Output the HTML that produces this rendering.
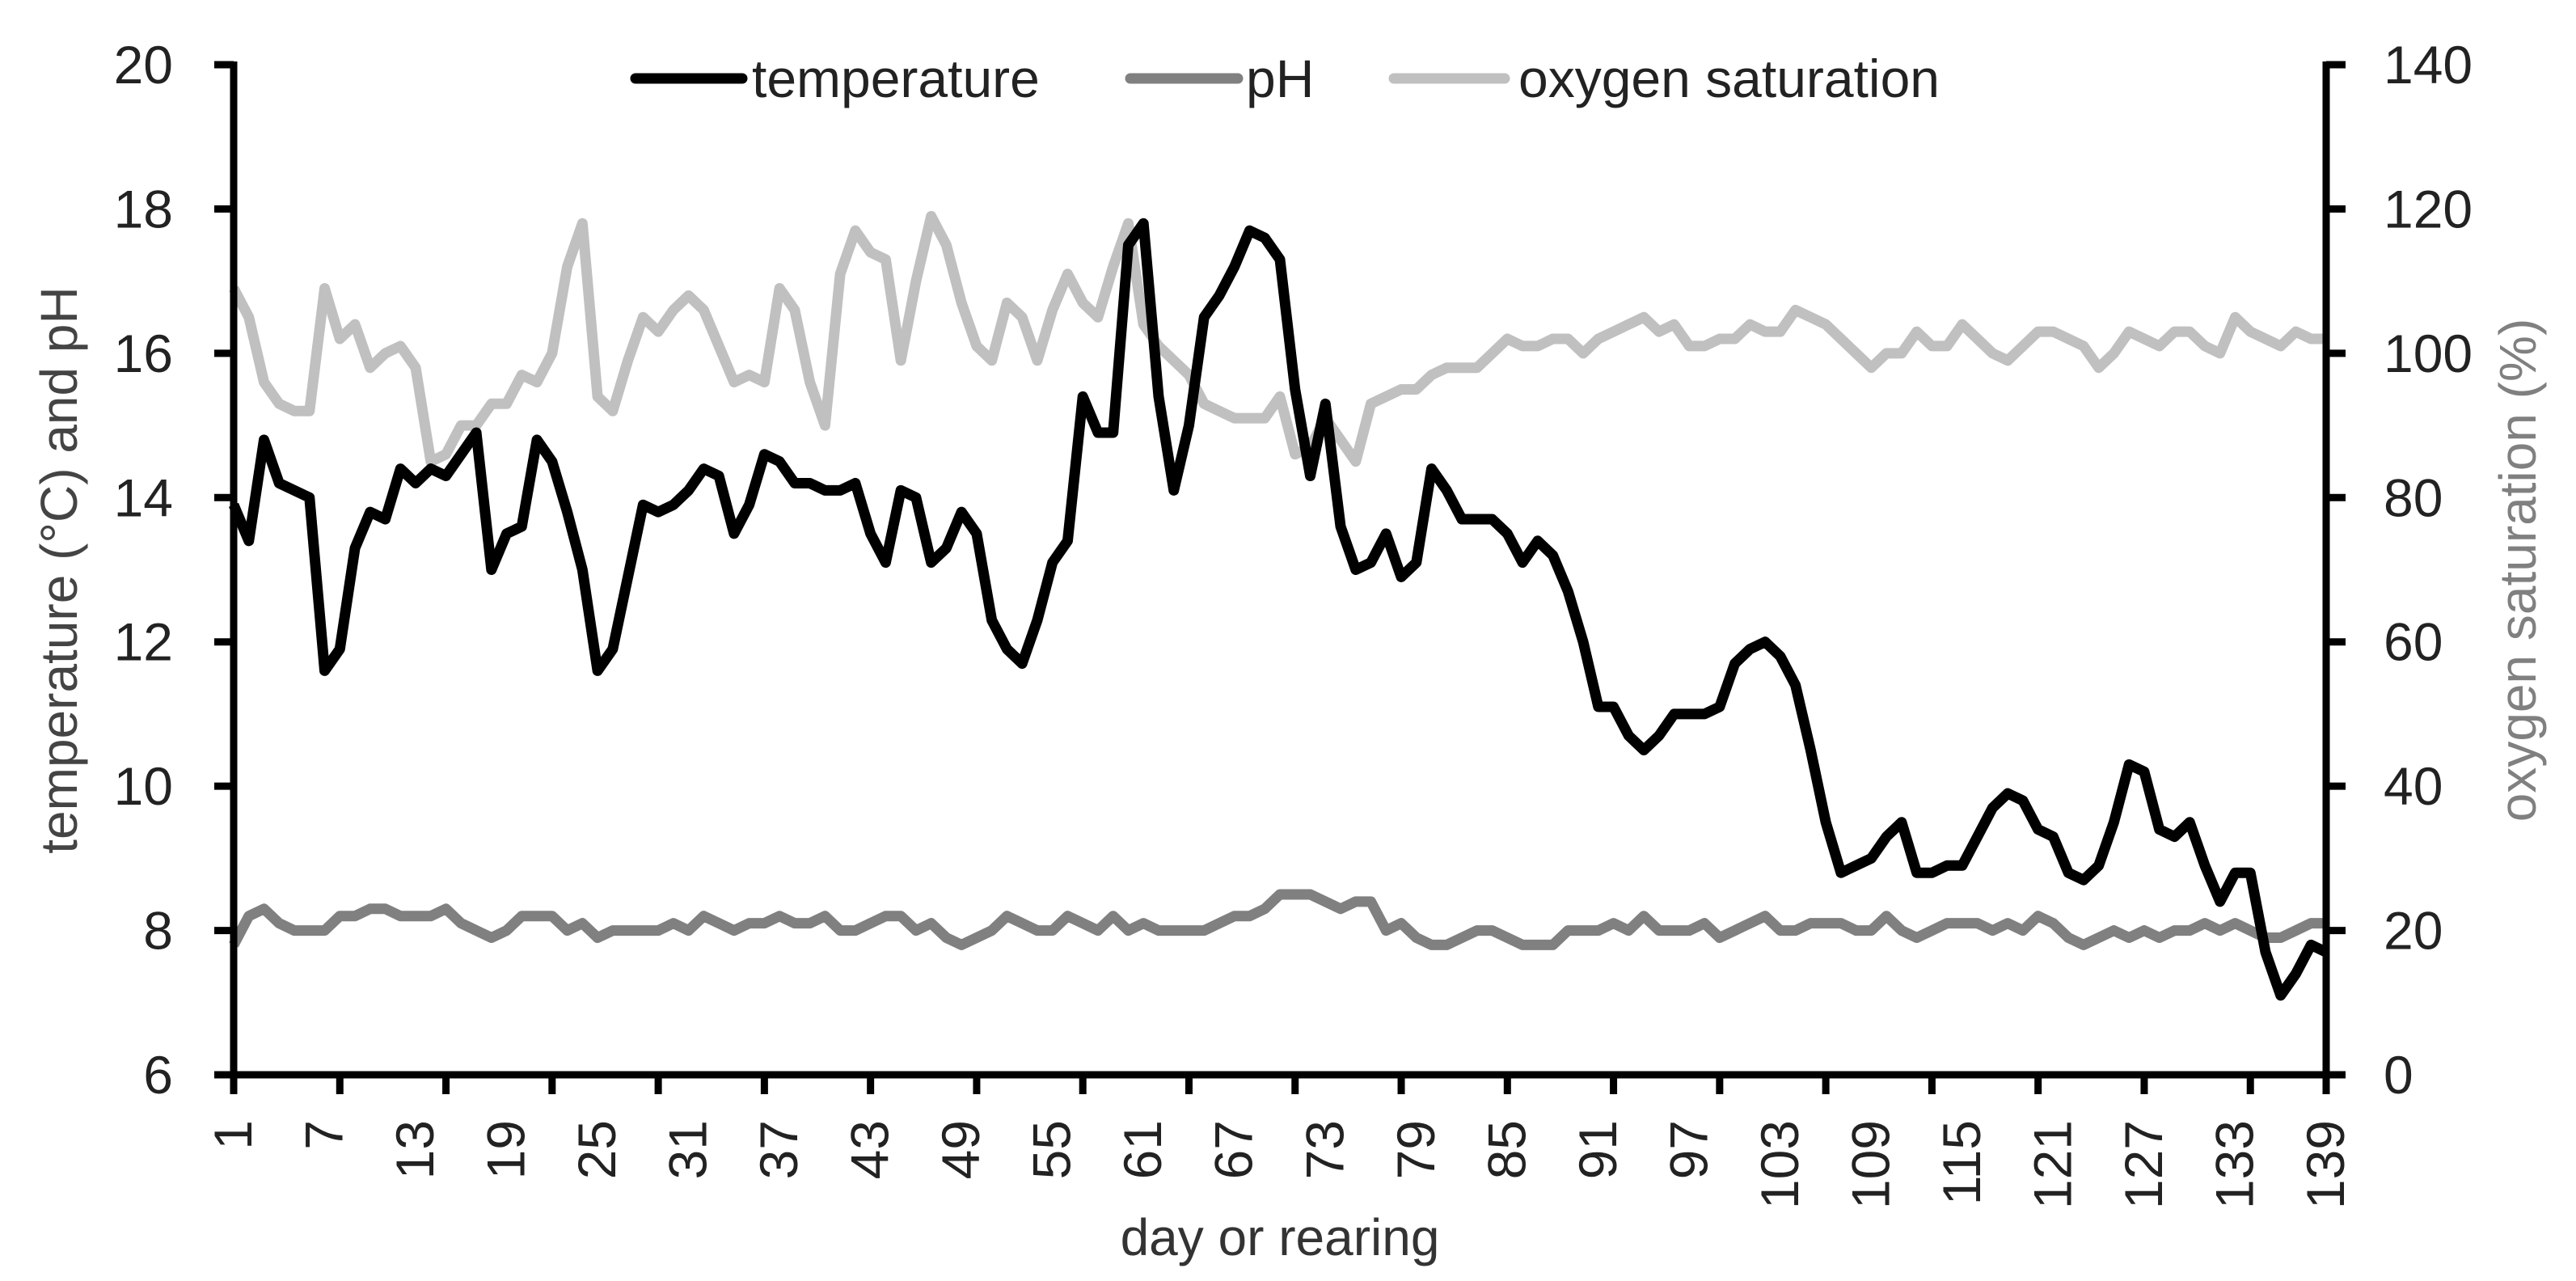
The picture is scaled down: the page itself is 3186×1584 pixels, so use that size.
<!DOCTYPE html>
<html><head><meta charset="utf-8"><style>
html,body{margin:0;padding:0;background:#fff;}
svg{display:block;font-family:"Liberation Sans",Arial,sans-serif;}
</style></head><body>
<svg id="chart" width="3186" height="1584" viewBox="0 0 3186 1584" xmlns="http://www.w3.org/2000/svg"></svg>
<script>
const days = Array.from({length:139},(_,i)=>i+1);
const temperature = [13.9,13.4,14.8,14.2,14.1,14.0,11.6,11.9,13.3,13.8,13.7,14.4,14.2,14.4,14.3,14.6,14.9,13.0,13.5,13.6,14.8,14.5,13.8,13.0,11.6,11.9,12.9,13.9,13.8,13.9,14.1,14.4,14.3,13.5,13.9,14.6,14.5,14.2,14.2,14.1,14.1,14.2,13.5,13.1,14.1,14.0,13.1,13.3,13.8,13.5,12.3,11.9,11.7,12.3,13.1,13.4,15.4,14.9,14.9,17.5,17.8,15.4,14.1,15.0,16.5,16.8,17.2,17.7,17.6,17.3,15.5,14.3,15.3,13.6,13.0,13.1,13.5,12.9,13.1,14.4,14.1,13.7,13.7,13.7,13.5,13.1,13.4,13.2,12.7,12.0,11.1,11.1,10.7,10.5,10.7,11.0,11.0,11.0,11.1,11.7,11.9,12.0,11.8,11.4,10.5,9.5,8.8,8.9,9.0,9.3,9.5,8.8,8.8,8.9,8.9,9.3,9.7,9.9,9.8,9.4,9.3,8.8,8.7,8.9,9.5,10.3,10.2,9.4,9.3,9.5,8.9,8.4,8.8,8.8,7.7,7.1,7.4,7.8,7.7];
const ph = [7.8,8.2,8.3,8.1,8.0,8.0,8.0,8.2,8.2,8.3,8.3,8.2,8.2,8.2,8.3,8.1,8.0,7.9,8.0,8.2,8.2,8.2,8.0,8.1,7.9,8.0,8.0,8.0,8.0,8.1,8.0,8.2,8.1,8.0,8.1,8.1,8.2,8.1,8.1,8.2,8.0,8.0,8.1,8.2,8.2,8.0,8.1,7.9,7.8,7.9,8.0,8.2,8.1,8.0,8.0,8.2,8.1,8.0,8.2,8.0,8.1,8.0,8.0,8.0,8.0,8.1,8.2,8.2,8.3,8.5,8.5,8.5,8.4,8.3,8.4,8.4,8.0,8.1,7.9,7.8,7.8,7.9,8.0,8.0,7.9,7.8,7.8,7.8,8.0,8.0,8.0,8.1,8.0,8.2,8.0,8.0,8.0,8.1,7.9,8.0,8.1,8.2,8.0,8.0,8.1,8.1,8.1,8.0,8.0,8.2,8.0,7.9,8.0,8.1,8.1,8.1,8.0,8.1,8.0,8.2,8.1,7.9,7.8,7.9,8.0,7.9,8.0,7.9,8.0,8.0,8.1,8.0,8.1,8.0,7.9,7.9,8.0,8.1,8.1];
const oxygen = [109,105,96,93,92,92,109,102,104,98,100,101,98,85,86,90,90,93,93,97,96,100,112,118,94,92,99,105,103,106,108,106,101,96,97,96,109,106,96,90,111,117,114,113,99,110,119,115,107,101,99,107,105,99,106,111,107,105,112,118,104,101,99,97,93,92,91,91,91,94,86,87,91,88,85,93,94,95,95,97,98,98,98,100,102,101,101,102,102,100,102,103,104,105,103,104,101,101,102,102,104,103,103,106,105,104,102,100,98,100,100,103,101,101,104,102,100,99,101,103,103,102,101,98,100,103,102,101,103,103,101,100,105,103,102,101,103,102,102];
const leftTicks = [6,8,10,12,14,16,18,20];
const rightTicks = [0,20,40,60,80,100,120,140];
const xLabels = [1,7,13,19,25,31,37,43,49,55,61,67,73,79,85,91,97,103,109,115,121,127,133,139];

const NS="http://www.w3.org/2000/svg";
const svg=document.getElementById('chart');
const X0=289,X1=2877,Y0=1329,Y1=80;
const xs=d=>X0+(d-1)*(X1-X0)/138;
const yL=v=>Y0-(v-6)*(Y0-Y1)/14;
const yR=v=>Y0-v*(Y0-Y1)/140;
function el(tag,attrs,parent){const e=document.createElementNS(NS,tag);for(const k in attrs)e.setAttribute(k,attrs[k]);(parent||svg).appendChild(e);return e;}

function series(vals,yf,color,name){
  const p=el('polyline',{points:vals.map((v,i)=>xs(days[i])+','+yf(v)).join(' '),fill:'none',stroke:color,'stroke-width':13,'stroke-linejoin':'round'});
  
  
}
series(ph,yL,'#808080','ph-line');
series(oxygen,yR,'#c0c0c0','oxygen-line');
series(temperature,yL,'#000','temperature-line');

// axes
const ax=el('g',{stroke:'#000','stroke-width':9,fill:'none'});


el('line',{x1:X0,y1:Y1-4,x2:X0,y2:Y0+4},ax);
el('line',{x1:X1,y1:Y1-4,x2:X1,y2:Y0+4},ax);
el('line',{x1:X0-4,y1:Y0,x2:X1+4,y2:Y0},ax);
leftTicks.forEach(t=>{el('line',{x1:X0-24,y1:yL(t),x2:X0,y2:yL(t)},ax);
  const tx=el('text',{x:214,y:yL(t)+23,'text-anchor':'end','font-size':66,fill:'#222'});tx.textContent=t;
  
  });
rightTicks.forEach(t=>{el('line',{x1:X1,y1:yR(t),x2:X1+24,y2:yR(t)},ax);
  const tx=el('text',{x:2948,y:yR(t)+23,'font-size':66,fill:'#222'});tx.textContent=t;
  
  });
for(let d=1;d<=139;d+=7){el('line',{x1:xs(d),y1:Y0,x2:xs(d),y2:Y0+24},ax);}
el('line',{x1:X1,y1:Y0,x2:X1,y2:Y0+24},ax);
xLabels.forEach(d=>{const x=xs(d)+22,y=1385;
  const tx=el('text',{x:x,y:y,'text-anchor':'end','font-size':66,fill:'#222',transform:`rotate(-90 ${x} ${y})`});tx.textContent=d;
  
  });

// titles
let t=el('text',{x:1583,y:1552,'text-anchor':'middle','font-size':64,fill:'#333'});t.textContent='day or rearing';


t=el('text',{x:95,y:705,'text-anchor':'middle','font-size':64,fill:'#444',transform:'rotate(-90 95 705)'});t.textContent='temperature (°C)  and pH';


t=el('text',{x:3136,y:705,'text-anchor':'middle','font-size':64,fill:'#808080',transform:'rotate(-90 3136 705)'});t.textContent='oxygen saturation (%)';



// legend
const legend=[['temperature','#000',786,918,930],['pH','#808080',1398,1531,1541],['oxygen saturation','#c0c0c0',1724,1861,1878]];
legend.forEach(([lab,c,a,b,tx])=>{const g=el('g',{});
  
  
  el('line',{x1:a,y1:97,x2:b,y2:97,stroke:c,'stroke-width':13,'stroke-linecap':'round'},g);
  const tt=el('text',{x:tx,y:120,'font-size':66,fill:'#222'},g);tt.textContent=lab;});
</script>
</body></html>
